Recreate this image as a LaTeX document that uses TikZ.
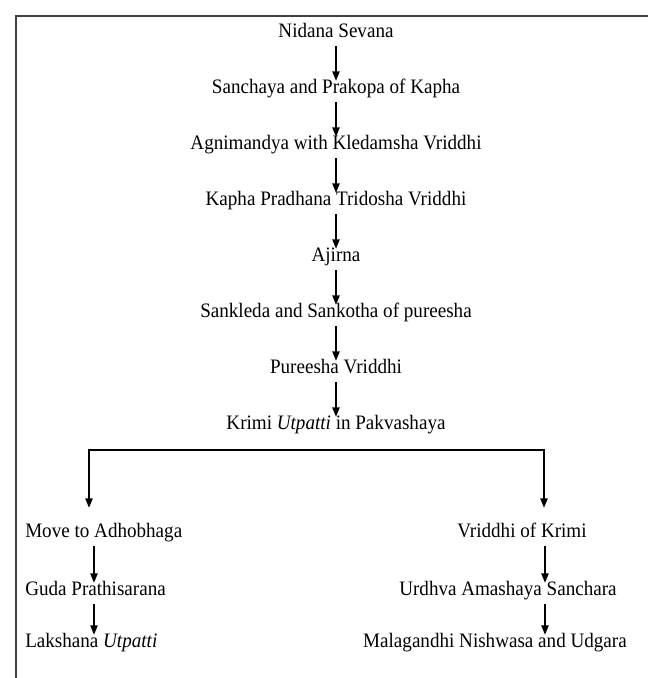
\documentclass[tikz,border=0pt]{standalone}
\usepackage{fontspec}
\setmainfont[FakeStretch=0.93]{Liberation Serif}
\usetikzlibrary{arrows.meta}

\begin{document}
\begin{tikzpicture}[x=0.75pt, y=-0.75pt, >={Triangle[width=5.5pt,length=7pt]},
  lbl/.style={anchor=base, inner xsep=0pt, inner ysep=2pt, text height=0.7em, text depth=0.25em, font=\fontsize{15.4}{18}\selectfont},
  lblw/.style={lbl, anchor=base west},
  arr/.style={->, line width=0.9pt, shorten <=2pt}]
\useasboundingbox (0,0) rectangle (648,678);
\draw[line width=1.5pt, black!75] (15.5,678) -- (15.5,15.5) -- (648,15.5);

% main chain
\node[lbl] (nid) at (336,37) {Nidana Sevana};
\node[lbl] (san) at (336,93) {Sanchaya and Prakopa of Kapha};
\node[lbl] (agn) at (336,149) {Agnimandya with Kledamsha Vriddhi};
\node[lbl] (kap) at (336,205) {Kapha Pradhana Tridosha Vriddhi};
\node[lbl] (aji) at (336,261) {Ajirna};
\node[lbl] (sak) at (336,317) {Sankleda and Sankotha of pureesha};
\node[lbl] (pur) at (336,373) {Pureesha Vriddhi};
\node[lbl] (kri) at (336,429) {Krimi \textit{Utpatti} in Pakvashaya};
\draw[arr] (nid) -- (san);
\draw[arr] (san) -- (agn);
\draw[arr] (agn) -- (kap);
\draw[arr] (kap) -- (aji);
\draw[arr] (aji) -- (sak);
\draw[arr] (sak) -- (pur);
\draw[arr] (pur) -- (kri);

% two branches
\node[lblw] (mov) at (25,537) {Move to Adhobhaga};
\node[lblw] (gud) at (25,595) {Guda Prathisarana};
\node[lblw] (lak) at (25,647) {Lakshana \textit{Utpatti}};
\node[lbl] (vri) at (522,537) {Vriddhi of Krimi};
\node[lbl] (urd) at (508,595) {Urdhva Amashaya Sanchara};
\node[lbl] (mal) at (495,647) {Malagandhi Nishwasa and Udgara};
\coordinate (bl) at (89,450);
\coordinate (br) at (544,450);
\coordinate (lx) at (94,0);
\coordinate (rx) at (545,0);
\draw[<->, line width=0.9pt, shorten <=12.75pt, shorten >=12.75pt]
  (bl |- mov.north) -- (bl) -- (br) -- (br |- vri.north);
\draw[arr] (mov.south -| lx) -- (gud.north -| lx);
\draw[arr] (gud.south -| lx) -- (lak.north -| lx);
\draw[arr] (vri.south -| rx) -- (urd.north -| rx);
\draw[arr] (urd.south -| rx) -- (mal.north -| rx);

\end{tikzpicture}
\end{document}
